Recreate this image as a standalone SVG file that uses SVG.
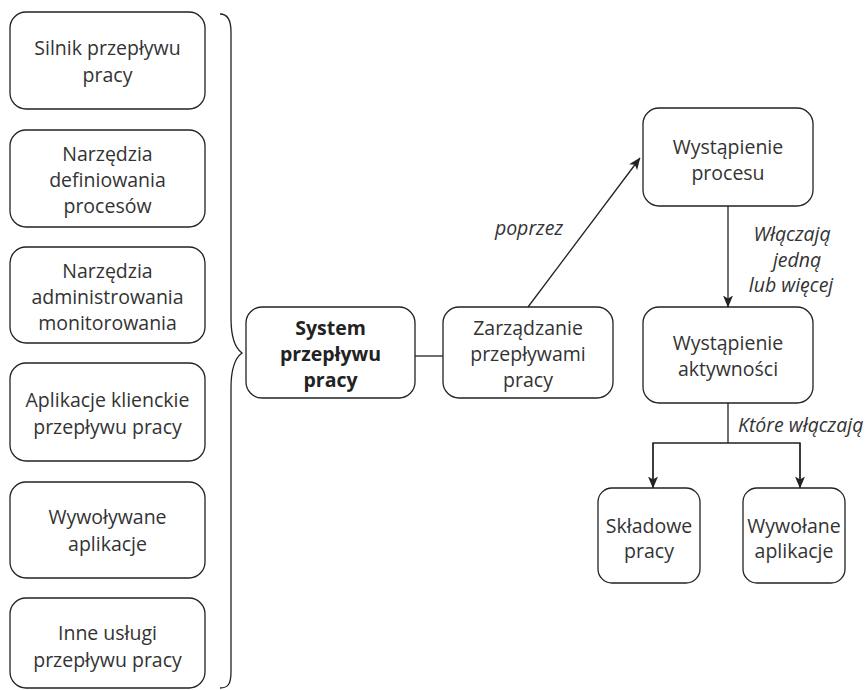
<svg xmlns="http://www.w3.org/2000/svg" width="867" height="690" viewBox="0 0 867 690">
  <style>
    .box { fill: #ffffff; stroke: #222222; stroke-width: 1.3; }
    .lbl { font-family: "Open Sans", "Liberation Sans", sans-serif; font-size: 19.5px; fill: #333333; text-anchor: middle; }
    .bold { font-weight: bold; fill: #222222; }
    .it { font-family: "Open Sans", "Liberation Sans", sans-serif; font-size: 19.5px; font-style: italic; fill: #333333; }
    .wire { fill: none; stroke: #222222; stroke-width: 1.3; }
  </style>
  <defs>
    <marker id="arrow" viewBox="0 0 12 10" refX="11.5" refY="5" markerWidth="12" markerHeight="10" markerUnits="userSpaceOnUse" orient="auto">
      <path d="M0,0 L12,5 L0,10 L3,5 z" fill="#222222"/>
    </marker>
  </defs>
  <rect width="867" height="690" fill="#ffffff"/>

  <!-- Components of the workflow system (left column) -->
  <g id="silnik">
    <rect class="box" x="10" y="12" width="195" height="97" rx="16"/>
    <text class="lbl" x="107.5" y="55">Silnik przepływu</text>
    <text class="lbl" x="107.5" y="82">pracy</text>
  </g>
  <g id="narzedzia-definiowania">
    <rect class="box" x="10" y="130" width="195" height="97" rx="16"/>
    <text class="lbl" x="107.5" y="161">Narzędzia</text>
    <text class="lbl" x="107.5" y="187">definiowania</text>
    <text class="lbl" x="107.5" y="213">procesów</text>
  </g>
  <g id="narzedzia-administrowania">
    <rect class="box" x="10" y="247" width="195" height="96" rx="16"/>
    <text class="lbl" x="107.5" y="278">Narzędzia</text>
    <text class="lbl" x="107.5" y="304">administrowania</text>
    <text class="lbl" x="107.5" y="330">monitorowania</text>
  </g>
  <g id="aplikacje-klienckie">
    <rect class="box" x="10" y="363" width="195" height="98" rx="16"/>
    <text class="lbl" x="107.5" y="407">Aplikacje klienckie</text>
    <text class="lbl" x="107.5" y="434">przepływu pracy</text>
  </g>
  <g id="wywolywane-aplikacje">
    <rect class="box" x="10" y="482" width="195" height="96" rx="16"/>
    <text class="lbl" x="107.5" y="524">Wywoływane</text>
    <text class="lbl" x="107.5" y="551">aplikacje</text>
  </g>
  <g id="inne-uslugi">
    <rect class="box" x="10" y="598" width="195" height="90" rx="16"/>
    <text class="lbl" x="107.5" y="640">Inne usługi</text>
    <text class="lbl" x="107.5" y="667">przepływu pracy</text>
  </g>

  <!-- Central system -->
  <g id="system">
    <rect class="box" x="246" y="307" width="169" height="91" rx="16"/>
    <text class="lbl bold" x="330.5" y="335">System</text>
    <text class="lbl bold" x="330.5" y="361">przepływu</text>
    <text class="lbl bold" x="330.5" y="387">pracy</text>
  </g>
  <g id="zarzadzanie">
    <rect class="box" x="443" y="307" width="170" height="91" rx="16"/>
    <text class="lbl" x="528" y="335">Zarządzanie</text>
    <text class="lbl" x="528" y="361">przepływami</text>
    <text class="lbl" x="528" y="387">pracy</text>
  </g>

  <!-- Runtime instances -->
  <g id="wystapienie-procesu">
    <rect class="box" x="643" y="108" width="170" height="98" rx="16"/>
    <text class="lbl" x="728" y="154">Wystąpienie</text>
    <text class="lbl" x="728" y="180">procesu</text>
  </g>
  <g id="wystapienie-aktywnosci">
    <rect class="box" x="643" y="307" width="170" height="96" rx="16"/>
    <text class="lbl" x="728" y="350">Wystąpienie</text>
    <text class="lbl" x="728" y="376">aktywności</text>
  </g>
  <g id="skladowe-pracy">
    <rect class="box" x="598" y="488" width="102" height="95" rx="14"/>
    <text class="lbl" x="649" y="533">Składowe</text>
    <text class="lbl" x="649" y="558">pracy</text>
  </g>
  <g id="wywolane-aplikacje">
    <rect class="box" x="743" y="488" width="102" height="95" rx="14"/>
    <text class="lbl" x="794" y="533">Wywołane</text>
    <text class="lbl" x="794" y="558">aplikacje</text>
  </g>

  <!-- Connectors -->
  <g id="connectors">
    <path class="wire" d="M220,14 C228,14 231,20 231,32 L231,318 C231,336 235,348 242,353 C235,358 231,370 231,388 L231,672 C231,684 228,688 220,688"/>
    <line class="wire" x1="415" y1="356" x2="443" y2="356"/>
    <line class="wire" x1="528" y1="307" x2="640" y2="158" marker-end="url(#arrow)"/>
    <line class="wire" x1="728" y1="206" x2="728" y2="307" marker-end="url(#arrow)"/>
    <polyline class="wire" points="728,403 728,443"/>
    <polyline class="wire" points="653,487 653,443 800,443 800,487"/>
    <line class="wire" x1="653" y1="443" x2="653" y2="488" marker-end="url(#arrow)"/>
    <line class="wire" x1="800" y1="443" x2="800" y2="488" marker-end="url(#arrow)"/>
  </g>

  <!-- Connector labels -->
  <g id="labels">
    <text class="it" x="529" y="235" text-anchor="middle">poprzez</text>
    <text class="it" x="792" y="241" text-anchor="middle">Włączają</text>
    <text class="it" x="797" y="267" text-anchor="middle">jedną</text>
    <text class="it" x="791" y="292" text-anchor="middle">lub więcej</text>
    <text class="it" x="738" y="432">Które włączają</text>
  </g>
</svg>
